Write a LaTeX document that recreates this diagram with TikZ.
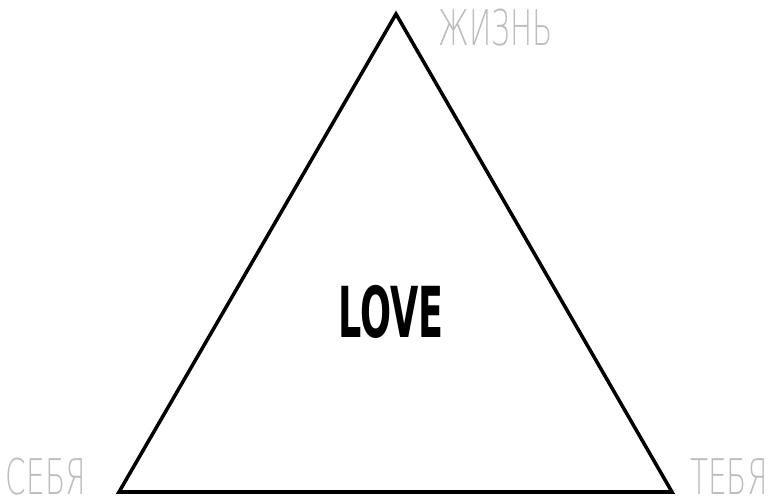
\documentclass[tikz,border=0pt]{standalone}
\usepackage{fontspec}
\newfontfamily\thinfont[FakeStretch=0.6]{DejaVu Sans ExtraLight}
\newfontfamily\boldfont[FakeStretch=0.52]{DejaVu Sans Bold}
\definecolor{labelgray}{HTML}{BDBDBD}
\begin{document}
\begin{tikzpicture}[x=0.02cm,y=0.02cm,line cap=round,line join=miter,
    corner/.style={text=labelgray,inner sep=0pt,font=\thinfont\fontsize{28}{28}\selectfont}]
  \useasboundingbox (0,0) rectangle (774,500);
  \coordinate (top) at (396,486);
  \coordinate (left) at (119,8);
  \coordinate (right) at (672,8);
  \draw[line width=2pt] (top) -- (left) -- (right) -- cycle;
  \node[inner sep=0pt,font=\boldfont\fontsize{40}{40}\selectfont] (love) at (391,188) {LOVE};
  \node[corner] (life) at (496,472) {ЖИЗНЬ};
  \node[corner] (self) at (46,23) {СЕБЯ};
  \node[corner] (you) at (729,23) {ТЕБЯ};
\end{tikzpicture}
\end{document}
